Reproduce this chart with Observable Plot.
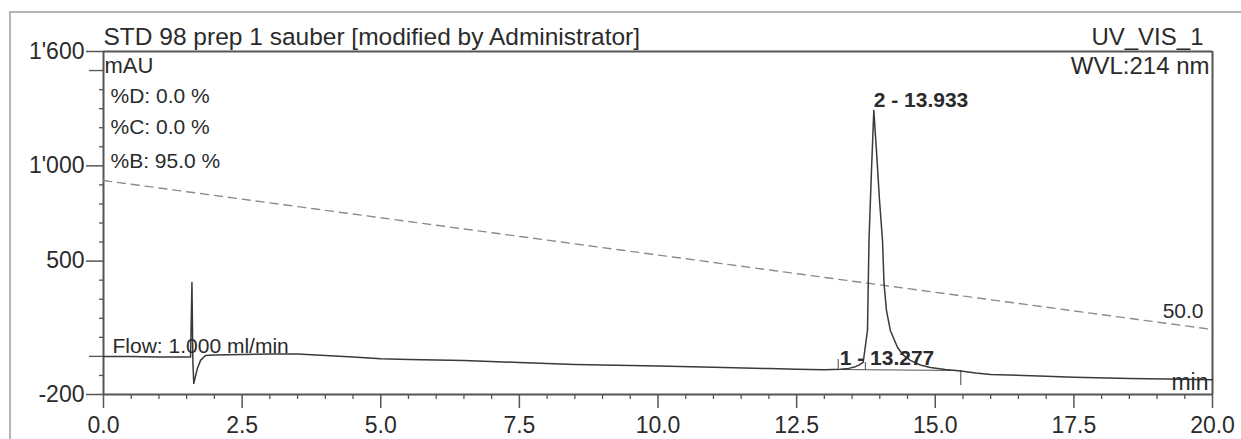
<!DOCTYPE html>
<html><head><meta charset="utf-8">
<script src="https://cdn.jsdelivr.net/npm/d3@7"></script>
<script src="https://cdn.jsdelivr.net/npm/@observablehq/plot@0.6"></script>
<style>
html,body{margin:0;padding:0;background:#fff;overflow:hidden;}
#wrap{position:relative;width:1241px;height:439px;overflow:hidden;}
#border{position:absolute;left:9px;top:11px;width:1300px;height:500px;border:2px solid #b4b4b4;}
#chart{position:absolute;left:0;top:0;}
</style></head><body>
<div id="wrap"><div id="border"></div><div id="chart"></div></div>
<script>
// Chromatogram trace (time in min, signal in mAU)
const traceT = [0, 0.5, 1.0, 1.5, 1.57, 1.595, 1.612, 1.628, 1.69, 1.75, 1.84, 2.0, 2.5, 3.0, 3.5, 4.0, 4.5, 5.0, 5.5, 6.5, 7.5, 8.5, 10.0, 11.0, 12.0, 12.5, 13.0, 13.29, 13.44, 13.56, 13.63, 13.70, 13.778, 13.805, 13.85, 13.892, 13.94, 13.995, 14.049, 14.076, 14.12, 14.19, 14.32, 14.43, 14.55, 14.73, 14.91, 15.18, 15.46, 15.73, 16.0, 17.0, 17.5, 18.5, 19.5, 20.0];
const traceV = [0, -1, -3, -3, -3, 388, -30, -142, -66, -21, 5, 7, 10, 13, 13, 5, -3, -12, -16, -22, -32, -42, -51, -57, -64, -68, -70, -67, -63, -54, -45, -32, 136, 608, 975, 1290, 1080, 818, 608, 383, 241, 136, 47, 5, -21, -45, -58, -69, -77, -87, -95, -104, -109, -116, -120, -122];

// Gradient (%B) curve drawn in mAU units
const gradT = [0, 20];
const gradV = [923, 141];

// Peak labels
const peakLabelT = [13.277, 13.89];
const peakLabelV = [-67, 1290];
const peakLabelText = ["1 - 13.277", "2 - 13.933"];

// Integration delimiters and baseline
const delimT = [13.25, 13.74, 15.46];
const delimLo = [-69, -72, -153];
const delimHi = [-16, -32, -74];
const intBaseT = [13.25, 15.46];
const intBaseV = [-69, -74];

// Axis ticks
const yMajor = [-200, 500, 1000, 1600];
const yLong = [0, 1500];
const yMinor = d3.range(-100, 1600, 100).filter(v => !yMajor.includes(v) && !yLong.includes(v));
const xMajor = d3.range(0, 20.01, 2.5);
const xMinor = d3.range(0, 20.01, 0.5).filter(v => !xMajor.some(m => Math.abs(m - v) < 1e-9));

// Texts
const titleText = "STD 98 prep 1 sauber [modified by Administrator]";
const channelText = "UV_VIS_1";
const wvlText = "WVL:214 nm";
const unitText = "mAU";
const solventText = ["%D: 0.0 %", "%C: 0.0 %", "%B: 95.0 %"];
const flowText = "Flow: 1.000 ml/min";
const gradEndText = "50.0";
const minText = "min";

const fmtY = v => (v < 0 ? "-" : "") + d3.format(",")(Math.abs(v)).replace(/,/g, "'");
const fmtX = d3.format(".1f");

const trace = traceT.map((t, i) => ({t, v: traceV[i]}));
const grad = gradT.map((t, i) => ({t, v: gradV[i]}));
const peaks = peakLabelT.map((t, i) => ({t, v: peakLabelV[i], label: peakLabelText[i]}));
const delims = delimT.map((t, i) => ({t, lo: delimLo[i], hi: delimHi[i]}));
const intBase = intBaseT.map((t, i) => ({t, v: intBaseV[i]}));

const axisCol = "#555";
const textCol = "#2b2b2b";
const font = "'Liberation Sans', Arial, sans-serif";

const chart = Plot.plot({
  width: 1241, height: 439,
  marginTop: 51, marginRight: 29, marginBottom: 45, marginLeft: 103,
  x: {domain: [0, 20]},
  y: {domain: [-200, 1600]},
  style: {fontFamily: font, color: textCol, background: "transparent", overflow: "visible"},
  marks: [
    Plot.axisY(yMinor, {tickSize: 4, tickFormat: () => "", color: axisCol, strokeWidth: 1.3, label: null}),
    Plot.axisY(yLong, {tickSize: 14, tickFormat: () => "", color: axisCol, strokeWidth: 1.3, label: null}),
    Plot.axisY(yMajor, {tickSize: 17, tickPadding: 2, tickFormat: fmtY, fontSize: 23, stroke: axisCol, fill: textCol, strokeWidth: 1.5, label: null}),
    Plot.axisX(xMinor, {tickSize: 5, tickFormat: () => "", color: axisCol, strokeWidth: 1.3, label: null}),
    Plot.axisX(xMajor, {tickSize: 14, tickPadding: 8, tickFormat: fmtX, fontSize: 23, stroke: axisCol, fill: textCol, strokeWidth: 1.5, label: null}),
    Plot.ruleX([0], {stroke: axisCol, strokeWidth: 2}),
    Plot.ruleX([20], {stroke: axisCol, strokeWidth: 2}),
    Plot.ruleY([-200], {stroke: axisCol, strokeWidth: 2}),
    Plot.ruleY([1600], {stroke: axisCol, strokeWidth: 2}),
    Plot.line(grad, {x: "t", y: "v", stroke: "#8c8c8c", strokeWidth: 1.4, strokeDasharray: "8,6"}),
    Plot.line(intBase, {x: "t", y: "v", stroke: "#555", strokeWidth: 1.1}),
    Plot.ruleX(delims, {x: "t", y1: "lo", y2: "hi", stroke: "#555", strokeWidth: 1.1}),
    Plot.line(trace, {x: "t", y: "v", stroke: "#3a3a3a", strokeWidth: 1.5}),
    Plot.text(peaks, {x: "t", y: "v", text: "label", dy: -4, textAnchor: "start", lineAnchor: "bottom", fontWeight: "bold", fontSize: 21, fill: textCol}),
    Plot.text([titleText], {frameAnchor: "top-left", dy: -7, lineAnchor: "bottom", textAnchor: "start", fontSize: 24.5, fill: textCol}),
    Plot.text([channelText], {frameAnchor: "top-right", dx: -9, dy: -7, lineAnchor: "bottom", textAnchor: "end", fontSize: 24, fill: textCol}),
    Plot.text([wvlText], {frameAnchor: "top-right", dx: -3, dy: 22, lineAnchor: "bottom", textAnchor: "end", fontSize: 24, fill: textCol}),
    Plot.text([unitText], {frameAnchor: "top-left", dx: 1, dy: 21, lineAnchor: "bottom", textAnchor: "start", fontSize: 22, fill: textCol}),
    Plot.text([solventText[0]], {frameAnchor: "top-left", dx: 7, dy: 51, lineAnchor: "bottom", textAnchor: "start", fontSize: 21, fill: textCol}),
    Plot.text([solventText[1]], {frameAnchor: "top-left", dx: 7, dy: 82, lineAnchor: "bottom", textAnchor: "start", fontSize: 21, fill: textCol}),
    Plot.text([solventText[2]], {frameAnchor: "top-left", dx: 7, dy: 116, lineAnchor: "bottom", textAnchor: "start", fontSize: 21, fill: textCol}),
    Plot.text([flowText], {frameAnchor: "bottom-left", dx: 9, dy: -42, lineAnchor: "bottom", textAnchor: "start", fontSize: 21, fill: textCol}),
    Plot.text([grad[grad.length - 1]], {x: "t", y: "v", text: () => gradEndText, dx: -9, dy: -12, lineAnchor: "bottom", textAnchor: "end", fontSize: 21, fill: textCol}),
    Plot.text([minText], {frameAnchor: "bottom-right", dx: -4, dy: -5, lineAnchor: "bottom", textAnchor: "end", fontSize: 23, fill: textCol})
  ]
});
document.getElementById("chart").appendChild(chart);
</script>
</body></html>
